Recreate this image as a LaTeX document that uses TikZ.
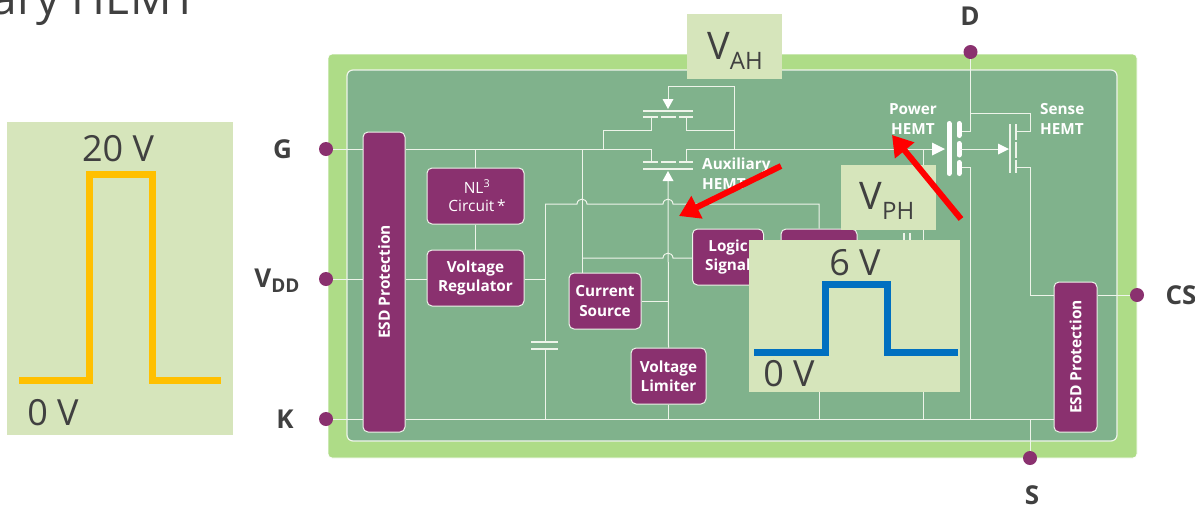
\documentclass[tikz,border=0pt]{standalone}
\usepackage{fontspec}
\setmainfont{Open Sans}
\usetikzlibrary{arrows.meta,calc}
\definecolor{outerg}{HTML}{AEDC87}
\definecolor{innerg}{HTML}{80B28C}
\definecolor{plum}{HTML}{8A316F}
\definecolor{pale}{HTML}{D6E5BB}
\definecolor{ink}{HTML}{404040}
\definecolor{wirec}{HTML}{EEF4EA}
\definecolor{wavey}{HTML}{FFC000}
\definecolor{waveb}{HTML}{0070C0}
\newcommand{\fsz}[1]{\fontsize{#1}{#1}\selectfont}
\tikzset{
  outerbox/.style={fill=outerg,draw=white,line width=0.8pt,rounded corners=4pt},
  innerbox/.style={fill=innerg,draw=wirec,line width=1.2pt,rounded corners=6pt},
  blockbox/.style={fill=plum,draw=wirec,line width=1pt,rounded corners=5pt,inner sep=0pt,align=center,
    text=white,font=\fsz{15.3}\bfseries},
  esdbox/.style={blockbox,font=\fsz{15.5}\bfseries},
  pin/.style={circle,fill=plum,draw=none,minimum size=14pt,inner sep=0pt},
  wire/.style={draw=wirec,line width=1pt},
  plate/.style={draw=wirec,line width=1.2pt},
  thickplate/.style={draw=white,line width=5pt,line cap=round},
  tri/.style={fill=white,draw=none},
  panel/.style={fill=pale,draw=none},
  pinlabel/.style={text=ink,font=\fsz{26}\bfseries,inner sep=0pt},
  smalllabel/.style={text=white,font=\fsz{15.3}\bfseries,align=left,inner sep=0pt},
  biglabel/.style={text=ink,font=\fsz{36},inner sep=0pt},
  redarrow/.style={draw=red,line width=6pt,-{Triangle[length=20pt,width=24pt]}},
  wave/.style={line width=7pt}
}
\begin{document}
\begin{tikzpicture}[x=1pt,y=-1pt]
\useasboundingbox (0,0) rectangle (1195,507);
\fill[white] (0,0) rectangle (1195,507);
% title
\node[anchor=base east,text=ink,font=\fsz{46},inner sep=0pt] (title) at (198,14) {ary HEMT};
% left panel
\fill[panel] (7,122) rectangle (233,435);
% chip
\draw[outerbox] (328,54) rectangle (1137,458);
\draw[innerbox] (347,70) rectangle (1117,441);
% blocks
\node[esdbox,minimum width=42pt,minimum height=300pt] (esdL) at (384,282)
  {\rotatebox{90}{ESD Protection}};
\node[esdbox,minimum width=43pt,minimum height=150pt] (esdR) at (1075.5,357)
  {\rotatebox{90}{ESD Protection}};
\node[blockbox,minimum width=97pt,minimum height=56pt,font=\fsz{15.5}] (nl) at (475.5,196)
  {\hspace{3pt}NL\textsuperscript{3}\\[3pt]\hspace{3pt}Circuit\,*};
\node[blockbox,minimum width=97pt,minimum height=56pt] (vr) at (475.5,278) {Voltage\\[4pt]Regulator};
\node[blockbox,minimum width=72pt,minimum height=56pt] (cs) at (605,301) {Current\\[4pt]Source};
\node[blockbox,minimum width=75pt,minimum height=56pt] (vl) at (668.5,376) {Voltage\\[4pt]Limiter};
\node[blockbox,minimum width=71pt,minimum height=56pt] (logic) at (728,257) {Logic\\[4pt]Signal};
\node[blockbox,minimum width=76pt,minimum height=56pt] (drv) at (819,257) {};
% pins
\node[pin] (pG) at (326,149) {};
\node[pin] (pV) at (326,279) {};
\node[pin] (pK) at (326,419) {};
\node[pin] (pD) at (970.5,52) {};
\node[pin] (pC) at (1137,295) {};
\node[pin] (pS) at (1030,458) {};
% helper coordinates
\coordinate (gA) at (651,149);
\coordinate (gB) at (686,149);
\coordinate (auxS) at (668,181);
\coordinate (railR) at (734,149);
\coordinate (capT) at (545,342);
\coordinate (capB) at (545,349);
\coordinate (drn) at (970.5,131);
\coordinate (src) at (970.5,167);
\coordinate (bus) at (970.5,419);
% G rail
\draw[wire] (pG) -- (esdL.west |- pG);
\draw[wire] (esdL.east |- pG) -- (gA) -- (651,162);
\draw[wire] (686,162) -- (gB) -- (932,149);
\draw[wire] (475.5,149) -- (nl.north);
\draw[wire] (nl.south) -- (vr.north);
% VDD rail
\draw[wire] (pV) -- (esdL.west |- pV);
\draw[wire] (esdL.east |- pV) -- (vr.west |- pV);
\draw[wire] (vr.east |- pV) -- (545,279);
% K rail
\draw[wire] (pK) -- (esdL.west |- pK);
\draw[wire] (esdL.east |- pK) -- (esdR.west |- pK);
\draw[wire] (1030,419) -- (pS);
% cap
\draw[wire] (545,204) -- (capT);
\draw[wire] (capB) -- (545,419);
\draw[plate] (531,342) -- (558,342);
\draw[plate] (531,349) -- (558,349);
% hop wire y=204
\draw[wire] (545,204) -- (577,204) .. controls (577.5,197.5) and (586.5,197.5) .. (587,204)
  -- (663,204) .. controls (663.5,197.5) and (672.5,197.5) .. (673,204)
  -- (819,204) -- (drv.north);
% hop wire y=258
\draw[wire] (582,258) -- (663,258) .. controls (663.5,251.5) and (672.5,251.5) .. (673,258) -- (logic.west |- 0,258);
% verticals
\draw[wire] (582,149) -- (cs.north -| 582,0);
\draw[wire] (auxS) -- (vl.north);
\draw[wire] (cs.east) -- (668,301);
\draw[wire] (vl.south) -- (668.5,419);
% auxiliary HEMT lower
\draw[plate] (643,162) -- (658,162) (661,162) -- (676,162) (679,162) -- (693,162);
\draw[plate] (643,169) -- (693,169);
\fill[tri] (668,171) -- (662.5,181) -- (673.5,181) -- cycle;
% auxiliary HEMT upper
\draw[wire] (668,99) -- (668,86) -- (734,86) -- (railR);
\fill[tri] (668,109) -- (662.5,99) -- (673.5,99) -- cycle;
\draw[plate] (643,111) -- (693,111);
\draw[plate] (643,117) -- (658,117) (661,117) -- (676,117) (679,117) -- (693,117);
\draw[wire] (651,117) -- (651,130) -- (603,130) -- (603,149);
\draw[wire] (686,117) -- (686,130) -- (734,130);
% power HEMT
\fill[tri] (945,149) -- (932,142.5) -- (932,155.5) -- cycle;
\draw[thickplate] (949,123.5) -- (949,173.5);
\draw[thickplate] (959,123.5) -- (959,135.5) (959,143.5) -- (959,155) (959,162.5) -- (959,173.5);
\draw[wire] (pD) -- (drn) -- (962,131);
\draw[wire] (962,167) -- (src) -- (bus);
\draw[wire] (960,149) -- (998,149);
\fill[tri] (1009,149) -- (998,143.5) -- (998,154.5) -- cycle;
\draw[wire] (923,149) -- (923,419);
\draw[plate] (904,233) -- (904,245) (910,233) -- (910,245);
% sense HEMT
\draw[plate] (1010,124) -- (1010,173);
\draw[plate] (1016,124) -- (1016,140) (1016,142) -- (1016,158) (1016,160) -- (1016,173);
\draw[wire] (1016,131) -- (1030,131) -- (1030,113) -- (970.5,113);
\draw[wire] (1016,167) -- (1030,167) -- (1030,295) -- (esdR.west |- pC);
\draw[wire] (esdR.east |- pC) -- (pC);
\draw[wire] (819,285) -- (819,419);
% small labels
\node[smalllabel,anchor=base west] (lAux) at (702,189) {Auxiliary\\[4pt]HEMT};
\node[smalllabel,anchor=base,align=center] (lPow) at (913,134) {Power\\[4pt]HEMT};
\node[smalllabel,anchor=base west] (lSen) at (1040,134) {Sense\\[4pt]HEMT};
% pin labels
\node[pinlabel] (tG) at (282.5,149) {G};
\node[pinlabel] (tV) at (277,281) {V\raisebox{-5pt}{\fsz{19}\bfseries DD}};
\node[pinlabel] (tK) at (285,419) {K};
\node[pinlabel] (tD) at (970,16) {D};
\node[pinlabel] (tC) at (1181,295) {CS};
\node[pinlabel] (tS) at (1032,495) {S};
% overlay panels
\fill[panel] (687,14) rectangle (782,79);
\fill[panel] (841,165) rectangle (936,230);
\fill[panel] (749,240) rectangle (960,392);
\node[biglabel] (vah) at (735,51) {\fsz{38}V\raisebox{-10pt}{\fsz{24}AH}};
\node[biglabel] (vph) at (887,201) {\fsz{38}V\raisebox{-10pt}{\fsz{24}PH}};
% waveforms
\coordinate (y0) at (19,380); \coordinate (y1) at (89,380); \coordinate (y2) at (89,174);
\coordinate (y3) at (152,174); \coordinate (y4) at (152,380); \coordinate (y5) at (221,380);
\draw[wave,draw=wavey] (y0) -- (y1) -- (y2) -- (y3) -- (y4) -- (y5);
\coordinate (b0) at (754,352); \coordinate (b1) at (825,352); \coordinate (b2) at (825,284);
\coordinate (b3) at (887,284); \coordinate (b4) at (887,352); \coordinate (b5) at (958,352);
\draw[wave,draw=waveb] (b0) -- (b1) -- (b2) -- (b3) -- (b4) -- (b5);
\node[biglabel] (t20) at (118,149) {20 V};
\node[biglabel] (t0a) at (53,413) {0 V};
\node[biglabel] (t6) at (855,263) {6 V};
\node[biglabel] (t0b) at (789,374) {0 V};
% red arrows
\coordinate (ra1) at (781,166); \coordinate (ra2) at (679,216);
\coordinate (rb1) at (961,219); \coordinate (rb2) at (892,135);
\draw[redarrow] (ra1) -- (ra2);
\draw[redarrow] (rb1) -- (rb2);
\end{tikzpicture}
\end{document}
